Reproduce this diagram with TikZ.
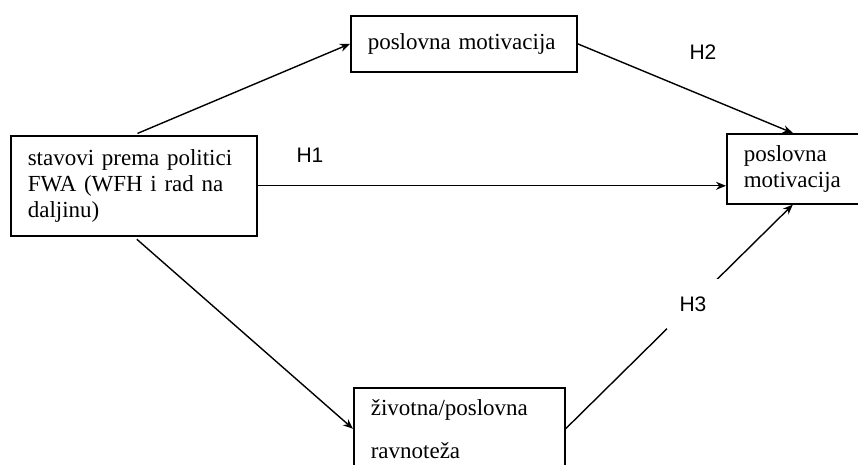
\documentclass[tikz,border=0pt]{standalone}
\usepackage{fontspec}
\setmainfont{Liberation Serif}
\newfontfamily\hfont{Liberation Sans}
\usetikzlibrary{arrows.meta}

\begin{document}
\begin{tikzpicture}[x=0.5pt, y=-0.5pt,
    box/.style={draw, line width=0.8pt, anchor=north west, align=left,
        inner xsep=8.5pt, font=\fontsize{11.5}{13}\selectfont},
    link/.style={-{Stealth[length=5pt, width=4pt]}, line width=0.7pt},
    hyp/.style={fill=white, font=\hfont\fontsize{10.5}{12}\selectfont}]
    \useasboundingbox (0,0) rectangle (858,465);

    % draw the boxes
    \node[box, minimum width=123pt, minimum height=50pt, text width=106pt] (stavovi) at (10,135)
        {stavovi prema politici\\FWA (WFH i rad na\\daljinu)};
    \node[box, minimum width=113pt, minimum height=28pt, text width=96pt] (motivTop) at (350,15)
        {poslovna motivacija};
    \node[box, minimum width=65.5pt, minimum height=35pt, text width=49pt] (motivRight) at (726,133)
        {poslovna\\motivacija};
    \node[box, minimum width=105.5pt, minimum height=41pt, text width=88.5pt] (ravnoteza) at (353,387)
        {životna/poslovna\\[8.5pt]ravnoteža};

    % draw the arrows
    \draw[link, shorten <=2pt] (stavovi.north) -- (motivTop.west);
    \draw[link] (motivTop.east) -- (motivRight.north);
    \draw[link] (stavovi.east) -- (stavovi.east -| motivRight.west);
    \draw[link, shorten <=2pt] (stavovi.south) -- (ravnoteza.west);
    \draw[link] (ravnoteza.east) -- (motivRight.south);

    % the hypotheses (H3 covers its arrow)
    \node[hyp] (h1) at (310,155) {H1};
    \node[hyp] (h2) at (703,52) {H2};
    \node[hyp, minimum width=26pt, minimum height=25pt] (h3) at (693,304) {H3};
\end{tikzpicture}
\end{document}
